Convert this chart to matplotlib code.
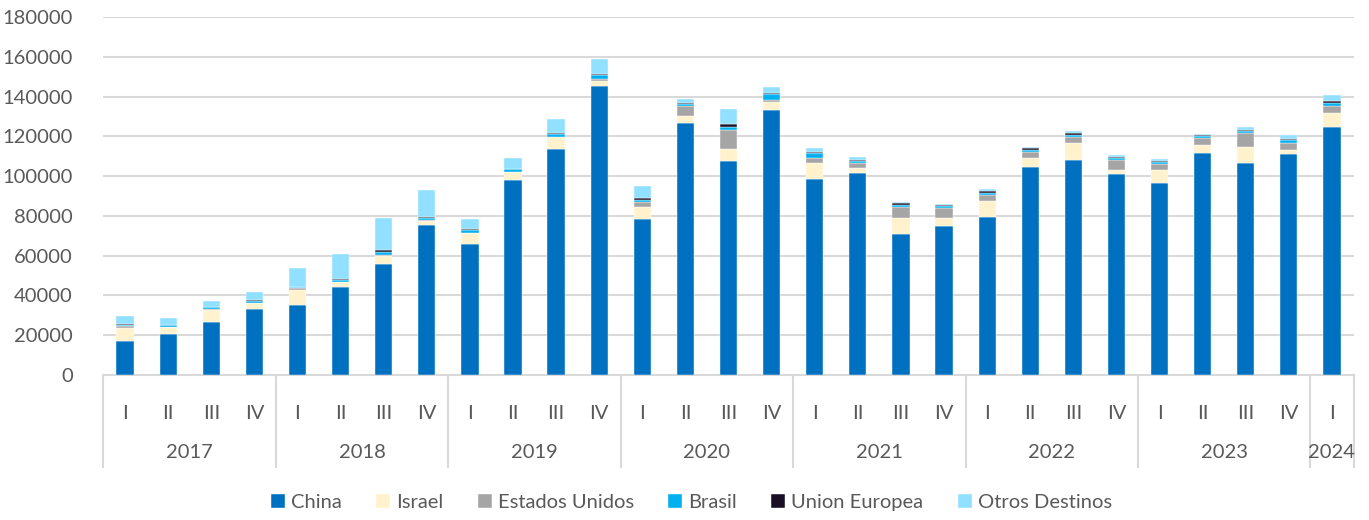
import numpy as np
import matplotlib
matplotlib.use("Agg")
import matplotlib.pyplot as plt
from matplotlib.transforms import blended_transform_factory

plt.rcParams["font.family"] = ["Lato", "DejaVu Sans"]

# ===================== datos =====================
years = ["2017", "2018", "2019", "2020", "2021", "2022", "2023", "2024"]
quarters_per_year = [4, 4, 4, 4, 4, 4, 4, 1]
quarter_names = ["I", "II", "III", "IV"]

china = [17300, 20600, 26500, 33000, 35100, 44100, 56000, 75200, 65900, 98300, 113700, 145300,
         78500, 126800, 107500, 133400, 98800, 101500, 71000, 74700, 79400, 104500, 108200, 101300,
         96500, 111600, 106500, 111200, 124600]
israel = [6300, 3400, 6200, 3000, 7400, 2400, 4000, 2400, 5400, 3700, 5900, 2700,
          5900, 3400, 6200, 3800, 7900, 2700, 8200, 4200, 7900, 4500, 8400, 1900,
          6400, 4000, 8100, 2200, 7400]
estados_unidos = [800, 300, 300, 300, 1000, 300, 300, 200, 300, 200, 300, 900,
                  2400, 5200, 9700, 1200, 2500, 2300, 5200, 5000, 3400, 3200, 3000, 4700,
                  3400, 3400, 7000, 3500, 3500]
brasil = [900, 600, 1000, 1000, 500, 1000, 1300, 1100, 1500, 1200, 1500, 2000,
          1300, 700, 1500, 2700, 2300, 1200, 1300, 1200, 1000, 1200, 1200, 1000,
          600, 1000, 1000, 1200, 1500]
union_europea = [300, 300, 400, 400, 300, 400, 1000, 800, 400, 400, 400, 600,
                 700, 600, 1200, 800, 700, 500, 800, 500, 800, 800, 800, 600,
                 600, 500, 700, 500, 700]
otros = [3800, 3500, 3000, 4100, 9700, 12400, 16600, 13100, 4700, 5200, 6900, 7500,
         6000, 2000, 7900, 3000, 2200, 1200, 700, 600, 900, 700, 900, 1400,
         1200, 600, 1300, 2000, 2900]

series = [
    ("China", china, "#0070C0"),
    ("Israel", israel, "#FFF2CC"),
    ("Estados Unidos", estados_unidos, "#A5A5A5"),
    ("Brasil", brasil, "#00B0F0"),
    ("Union Europea", union_europea, "#1A0F24"),
    ("Otros Destinos", otros, "#92E0FF"),
]

# ===================== grafico =====================
fig = plt.figure(figsize=(13.69, 5.20), dpi=100)
ax = fig.add_axes([0.0756, 0.279, 0.9131, 0.688])

x = np.arange(len(china))
bottom = np.zeros(len(china))
for name, vals, color in series:
    ax.bar(x, vals, 0.4, bottom=bottom, color=color, label=name,
           edgecolor="white", linewidth=0.3, zorder=3)
    bottom += np.array(vals)

ax.set_xlim(-0.5, len(china) - 0.5)
ax.set_ylim(0, 180000)
ax.set_yticks(np.arange(0, 180001, 20000))
ax.yaxis.grid(True, color="#D9D9D9", linewidth=1.5, zorder=0)
ax.tick_params(axis="y", length=0, labelsize=14.5, labelcolor="#595959", pad=22)
for s in ["top", "right", "left"]:
    ax.spines[s].set_visible(False)
ax.spines["bottom"].set_color("#D9D9D9")
ax.spines["bottom"].set_linewidth(1.5)

# etiquetas de trimestres
qlabels = []
for n in quarters_per_year:
    qlabels += quarter_names[:n]
ax.set_xticks(x)
ax.set_xticklabels(qlabels)
ax.tick_params(axis="x", length=0, labelsize=14.5, labelcolor="#595959", pad=22)

# etiquetas de años y separadores
trans = blended_transform_factory(ax.transData, ax.transAxes)
start = 0
edges = [-0.5]
for yr, n in zip(years, quarters_per_year):
    center = start + (n - 1) / 2
    ax.text(center, -0.218, yr, transform=trans, ha="center", va="center",
            fontsize=14.5, color="#595959")
    start += n
    edges.append(start - 0.5)
for e in edges:
    ax.plot([e, e], [0, -0.257], transform=trans, color="#D9D9D9",
            linewidth=1.5, clip_on=False)

fig.legend(loc="center", bbox_to_anchor=(0.505, 0.033), ncol=6, frameon=False,
           fontsize=14.5, handlelength=0.7, handleheight=0.7, handletextpad=0.3,
           columnspacing=1.7, labelcolor="#595959")

plt.savefig("out.png", dpi=100)
